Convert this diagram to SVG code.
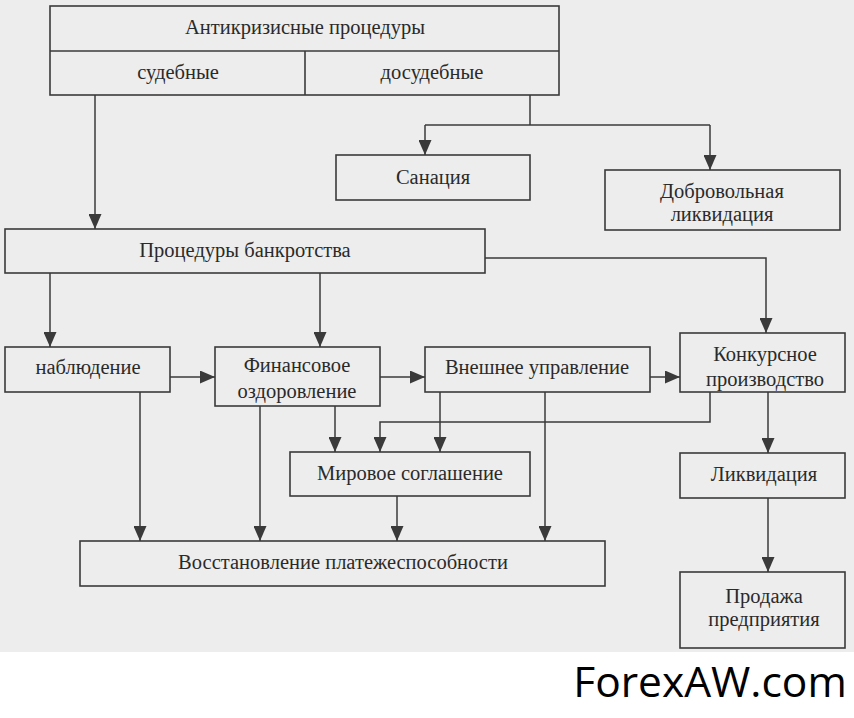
<svg xmlns="http://www.w3.org/2000/svg" width="854" height="718" viewBox="0 0 854 718">
<style>
.b{fill:none;stroke:#3a3a3a;stroke-width:1.6}
.t{font-family:"Liberation Serif","Times New Roman",serif;font-size:20.5px;fill:#2a2a2a;text-anchor:middle}
.c{fill:none;stroke:#3a3a3a;stroke-width:1.5}
</style>
<defs>
<marker id="ah" viewBox="0 0 15 13" refX="15" refY="6.5" markerWidth="15" markerHeight="13" markerUnits="userSpaceOnUse" orient="auto">
<path d="M0,0 L15,6.5 L0,13 Z" fill="#3a3a3a"/>
</marker>
</defs>
<rect x="0" y="0" width="854" height="652" fill="#ededed"/>
<rect x="0" y="652" width="854" height="66" fill="#ffffff"/>

<g id="top">
<rect class="b" x="50" y="6" width="509" height="89"/>
<line class="b" x1="50" y1="51" x2="559" y2="51"/>
<line class="b" x1="305" y1="51" x2="305" y2="95"/>
<text class="t" x="305" y="34">Антикризисные процедуры</text>
<text class="t" x="178" y="79">судебные</text>
<text class="t" x="432" y="79">досудебные</text>
</g>
<g id="sanaciya">
<rect class="b" x="336" y="155" width="194" height="45"/>
<text class="t" x="433" y="184">Санация</text>
</g>
<g id="dobrovolnaya">
<rect class="b" x="605" y="170" width="235" height="60"/>
<text class="t" x="722" y="198">Добровольная</text>
<text class="t" x="722" y="221">ликвидация</text>
</g>
<g id="bankrotstvo">
<rect class="b" x="5" y="229" width="480" height="44"/>
<text class="t" x="245" y="257">Процедуры банкротства</text>
</g>
<g id="nablyudenie">
<rect class="b" x="5" y="347" width="165" height="45"/>
<text class="t" x="88" y="374">наблюдение</text>
</g>
<g id="finansovoe">
<rect class="b" x="215" y="347" width="165" height="59"/>
<text class="t" x="297" y="372">Финансовое</text>
<text class="t" x="297" y="398">оздоровление</text>
</g>
<g id="vneshnee">
<rect class="b" x="425" y="347" width="225" height="45"/>
<text class="t" x="537" y="374">Внешнее управление</text>
</g>
<g id="konkursnoe">
<rect class="b" x="680" y="333" width="165" height="59"/>
<text class="t" x="765" y="361">Конкурсное</text>
<text class="t" x="765" y="386">производство</text>
</g>
<g id="mirovoe">
<rect class="b" x="290" y="452" width="240" height="44"/>
<text class="t" x="410" y="480">Мировое соглашение</text>
</g>
<g id="likvidaciya">
<rect class="b" x="680" y="453" width="165" height="45"/>
<text class="t" x="764" y="481">Ликвидация</text>
</g>
<g id="vosstanovlenie">
<rect class="b" x="80" y="541" width="525" height="45"/>
<text class="t" x="343" y="569">Восстановление платежеспособности</text>
</g>
<g id="prodazha">
<rect class="b" x="680" y="572" width="165" height="76"/>
<text class="t" x="764" y="603">Продажа</text>
<text class="t" x="764" y="626">предприятия</text>
</g>

<g id="connectors">
<path class="c" d="M95,95 V229" marker-end="url(#ah)"/>
<path class="c" d="M530,95 V125"/>
<path class="c" d="M425,125 H710"/>
<path class="c" d="M425,125 V155" marker-end="url(#ah)"/>
<path class="c" d="M710,125 V170" marker-end="url(#ah)"/>
<path class="c" d="M485,258 H766 V333" marker-end="url(#ah)"/>
<path class="c" d="M50,273 V347" marker-end="url(#ah)"/>
<path class="c" d="M320,273 V347" marker-end="url(#ah)"/>
<path class="c" d="M170,377 H215" marker-end="url(#ah)"/>
<path class="c" d="M380,377 H425" marker-end="url(#ah)"/>
<path class="c" d="M650,377 H680" marker-end="url(#ah)"/>
<path class="c" d="M335,406 V452" marker-end="url(#ah)"/>
<path class="c" d="M710,392 V422 H380 V452" marker-end="url(#ah)"/>
<path class="c" d="M440,392 V452" marker-end="url(#ah)"/>
<path class="c" d="M140,392 V541" marker-end="url(#ah)"/>
<path class="c" d="M260,406 V541" marker-end="url(#ah)"/>
<path class="c" d="M397,496 V541" marker-end="url(#ah)"/>
<path class="c" d="M545,392 V541" marker-end="url(#ah)"/>
<path class="c" d="M768,392 V453" marker-end="url(#ah)"/>
<path class="c" d="M768,498 V572" marker-end="url(#ah)"/>
</g>
<text x="710" y="697" font-family="'Open Sans','Noto Sans',sans-serif" font-size="42.5" fill="#000" text-anchor="middle">ForexAW.com</text>
</svg>
